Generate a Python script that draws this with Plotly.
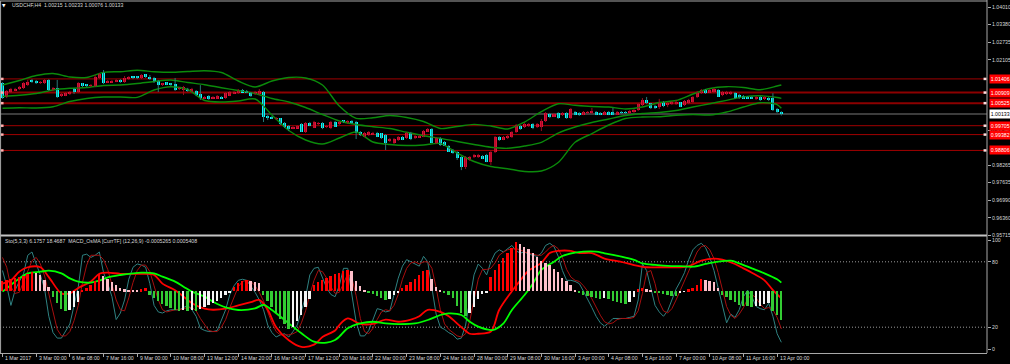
import plotly.graph_objects as go

# ---------------- data (USDCHF H4) ----------------
bar_index = list(range(186))

opens = [
1.0126,1.0075,1.0093,1.0100,1.0104,1.0108,1.0118,1.0137,1.0133,1.0126,
1.0126,1.0137,1.0100,1.0108,1.0078,1.0082,1.0086,1.0104,1.0093,1.0126,
1.0122,1.0115,1.0115,1.0144,1.0166,1.0129,1.0129,1.0129,1.0137,1.0129,
1.0140,1.0148,1.0148,1.0144,1.0158,1.0148,1.0144,1.0133,1.0118,1.0129,
1.0126,1.0122,1.0104,1.0100,1.0104,1.0093,1.0097,1.0086,1.0071,1.0078,
1.0071,1.0071,1.0075,1.0071,1.0078,1.0089,1.0089,1.0100,1.0097,1.0093,
1.0086,1.0086,1.0093,1.0006,1.0002,0.9995,0.9998,0.9980,0.9969,0.9962,
0.9962,0.9977,0.9948,0.9980,0.9962,0.9977,0.9980,0.9966,0.9962,0.9984,
0.9977,0.9988,0.9980,0.9988,0.9984,0.9948,0.9929,0.9937,0.9940,0.9944,
0.9944,0.9937,0.9915,0.9908,0.9918,0.9929,0.9926,0.9944,0.9926,0.9929,
0.9929,0.9948,0.9958,0.9908,0.9926,0.9911,0.9897,0.9882,0.9875,0.9857,
0.9820,0.9846,0.9857,0.9857,0.9860,0.9864,0.9838,0.9875,0.9929,0.9922,
0.9926,0.9929,0.9948,0.9969,0.9966,0.9969,0.9977,0.9966,0.9966,0.9988,
1.0013,1.0002,1.0017,1.0009,1.0017,0.9998,1.0020,1.0017,1.0013,1.0017,
1.0017,1.0020,1.0017,1.0013,1.0020,1.0020,1.0013,1.0020,1.0020,1.0017,
1.0020,1.0028,1.0046,1.0064,1.0053,1.0042,1.0038,1.0057,1.0046,1.0049,
1.0049,1.0057,1.0046,1.0053,1.0057,1.0075,1.0089,1.0100,1.0093,1.0093,
1.0100,1.0082,1.0086,1.0086,1.0089,1.0082,1.0078,1.0075,1.0075,1.0068,
1.0075,1.0068,1.0071,1.0071,1.0031,1.00215]

highs = [
1.0129,1.0100,1.0108,1.0108,1.0115,1.0129,1.0137,1.0140,1.0137,1.0133,
1.0140,1.0140,1.0111,1.0137,1.0089,1.0093,1.0097,1.0108,1.0129,1.0126,
1.0122,1.0122,1.0155,1.0162,1.0173,1.0137,1.0137,1.0140,1.0140,1.0151,
1.0151,1.0151,1.0151,1.0158,1.0158,1.0155,1.0148,1.0137,1.0126,1.0129,
1.0126,1.0144,1.0111,1.0115,1.0108,1.0108,1.0100,1.0118,1.0078,1.0082,
1.0078,1.0082,1.0078,1.0093,1.0097,1.0097,1.0104,1.0104,1.0100,1.0093,
1.0097,1.0104,1.0097,1.0009,1.0006,1.0002,0.9998,0.9984,0.9973,0.9969,
0.9973,0.9980,0.9984,0.9984,0.9988,0.9984,0.9984,0.9973,0.9988,0.9988,
0.9988,0.9991,0.9991,0.9991,0.9988,0.9951,0.9948,0.9951,0.9948,0.9948,
0.9944,0.9940,0.9926,0.9926,0.9933,0.9933,0.9948,0.9948,0.9937,0.9937,
0.9955,0.9962,0.9962,0.9929,0.9929,0.9915,0.9900,0.9886,0.9878,0.9860,
0.9860,0.9860,0.9868,0.9868,0.9864,0.9868,0.9878,0.9933,0.9933,0.9933,
0.9937,0.9951,0.9977,0.9973,0.9980,0.9980,0.9980,0.9980,0.9995,1.0020,
1.0017,1.0017,1.0020,1.0020,1.0020,1.0035,1.0024,1.0020,1.0024,1.0024,
1.0035,1.0024,1.0020,1.0024,1.0024,1.0035,1.0024,1.0024,1.0024,1.0028,
1.0031,1.0053,1.0071,1.0075,1.0053,1.0046,1.0068,1.0060,1.0057,1.0060,
1.0064,1.0057,1.0064,1.0068,1.0078,1.0097,1.0104,1.0104,1.0104,1.0108,
1.0104,1.0097,1.0097,1.0097,1.0093,1.0086,1.0082,1.0078,1.0078,1.0078,
1.0078,1.0078,1.0075,1.0089,1.0035,1.00233]

lows = [
1.0068,1.0071,1.0089,1.0097,1.0100,1.0104,1.0115,1.0126,1.0122,1.0122,
1.0122,1.0097,1.0097,1.0071,1.0075,1.0078,1.0082,1.0086,1.0089,1.0111,
1.0111,1.0111,1.0111,1.0140,1.0122,1.0126,1.0126,1.0129,1.0126,1.0126,
1.0137,1.0140,1.0140,1.0140,1.0144,1.0137,1.0126,1.0093,1.0115,1.0118,
1.0115,1.0097,1.0100,1.0082,1.0093,1.0093,1.0078,1.0064,1.0068,1.0064,
1.0068,1.0068,1.0068,1.0068,1.0078,1.0086,1.0086,1.0093,1.0089,1.0075,
1.0082,1.0082,0.9984,0.9991,0.9995,0.9991,0.9973,0.9962,0.9951,0.9958,
0.9962,0.9948,0.9944,0.9969,0.9962,0.9973,0.9958,0.9962,0.9958,0.9966,
0.9973,0.9980,0.9977,0.9977,0.9922,0.9933,0.9929,0.9933,0.9937,0.9929,
0.9922,0.9882,0.9911,0.9904,0.9915,0.9918,0.9922,0.9918,0.9922,0.9926,
0.9929,0.9948,0.9908,0.9904,0.9897,0.9897,0.9875,0.9868,0.9846,0.9809,
0.9813,0.9842,0.9853,0.9853,0.9849,0.9838,0.9828,0.9871,0.9915,0.9918,
0.9922,0.9926,0.9944,0.9955,0.9962,0.9966,0.9958,0.9962,0.9951,0.9984,
0.9998,1.0002,0.9995,1.0006,0.9995,0.9995,1.0009,1.0006,1.0009,1.0013,
1.0013,1.0009,1.0009,1.0009,1.0009,1.0009,1.0009,1.0013,1.0013,1.0013,
1.0017,1.0024,1.0042,1.0049,1.0031,1.0031,1.0031,1.0038,1.0038,1.0046,
1.0046,1.0038,1.0042,1.0049,1.0053,1.0071,1.0086,1.0086,1.0089,1.0089,
1.0075,1.0078,1.0082,1.0082,1.0068,1.0068,1.0068,1.0068,1.0068,1.0064,
1.0060,1.0064,1.0060,1.0024,1.0017,1.00076]

closes = [
1.0071,1.0097,1.0104,1.0104,1.0111,1.0126,1.0129,1.0129,1.0126,1.0129,
1.0137,1.0100,1.0108,1.0075,1.0086,1.0089,1.0093,1.0093,1.0126,1.0115,
1.0115,1.0118,1.0148,1.0158,1.0126,1.0133,1.0133,1.0137,1.0129,1.0144,
1.0148,1.0144,1.0144,1.0155,1.0148,1.0140,1.0129,1.0118,1.0126,1.0122,
1.0118,1.0100,1.0108,1.0111,1.0097,1.0104,1.0082,1.0071,1.0075,1.0068,
1.0075,1.0078,1.0071,1.0089,1.0093,1.0093,1.0100,1.0093,1.0093,1.0078,
1.0093,1.0097,1.0002,0.9998,0.9998,0.9998,0.9977,0.9966,0.9962,0.9966,
0.9969,0.9948,0.9980,0.9973,0.9984,0.9980,0.9962,0.9969,0.9984,0.9966,
0.9984,0.9984,0.9988,0.9980,0.9944,0.9937,0.9944,0.9948,0.9944,0.9929,
0.9926,0.9908,0.9922,0.9922,0.9929,0.9922,0.9944,0.9922,0.9933,0.9933,
0.9951,0.9958,0.9908,0.9926,0.9900,0.9897,0.9875,0.9871,0.9853,0.9820,
0.9857,0.9857,0.9864,0.9864,0.9853,0.9838,0.9875,0.9929,0.9918,0.9929,
0.9933,0.9948,0.9973,0.9958,0.9977,0.9977,0.9962,0.9977,0.9988,1.0017,
1.0002,1.0013,0.9998,1.0017,0.9998,1.0031,1.0013,1.0009,1.0020,1.0020,
1.0024,1.0013,1.0013,1.0020,1.0013,1.0013,1.0020,1.0017,1.0017,1.0024,
1.0028,1.0049,1.0064,1.0053,1.0035,1.0035,1.0057,1.0042,1.0053,1.0057,
1.0057,1.0038,1.0060,1.0064,1.0075,1.0093,1.0100,1.0089,1.0100,1.0104,
1.0075,1.0093,1.0093,1.0093,1.0071,1.0071,1.0071,1.0071,1.0071,1.0075,
1.0064,1.0075,1.0064,1.0028,1.0020,1.00133]

# Bollinger bands, read at every 4th bar
bb_bars = [0,4,8,12,16,20,24,28,32,36,40,44,48,52,56,60,64,68,72,76,80,84,88,92,
           96,100,104,108,112,116,120,124,128,132,136,140,144,148,152,156,160,164,
           168,172,176,180,184,185]
bb_upper = [1.01184,1.01348,1.01530,1.01603,1.01475,1.01457,1.01646,1.01668,1.01719,
            1.01668,1.01646,1.01675,1.01704,1.01639,1.01330,1.01112,1.01330,1.01457,
            1.01439,1.01184,1.00421,0.99974,0.99995,1.00075,1.00003,0.99857,0.99603,
            0.99676,0.99755,0.99694,0.99584,0.99839,1.00214,1.00504,1.00446,1.00403,
            1.00384,1.00312,1.00384,1.00548,1.00621,1.00857,1.01057,1.01123,1.01094,
            1.01014,1.01148,1.01184]
bb_middle = [1.00766,1.00810,1.00875,1.01003,1.01064,1.01094,1.01166,1.01184,1.01239,
             1.01312,1.01366,1.01275,1.01195,1.01086,1.00984,1.00875,1.00694,1.00566,
             1.00366,1.00112,0.99875,0.99748,0.99668,0.99603,0.99465,0.99341,0.99246,
             0.99130,0.99021,0.98923,0.98883,0.98966,0.99101,0.99439,0.99657,0.99821,
             0.99948,1.00075,1.00148,1.00184,1.00257,1.00384,1.00504,1.00628,1.00755,
             1.00792,1.00730,1.00701]
bb_lower = [1.00337,1.00359,1.00348,1.00395,1.00584,1.00694,1.00748,1.00748,1.00737,
            1.01003,1.01123,1.01021,1.00621,1.00566,1.00603,1.00675,1.00094,0.99530,
            0.99185,0.99039,0.99257,0.99476,0.99112,0.99021,0.98985,0.99003,0.99057,
            0.98712,0.98403,0.98221,0.98141,0.98039,0.98057,0.98367,0.99101,0.99421,
            0.99730,0.99966,1.00021,1.00032,1.00083,1.00112,1.00094,1.00203,1.00384,
            1.00541,1.00475,1.00337]

# horizontal levels drawn on the chart
level_prices = [1.01406, 1.00909, 1.00525, 0.99705, 0.99382, 0.98806]
level_labels = ["1.01406", "1.00909", "1.00525", "0.99705", "0.99382", "0.98806"]
level_widths = [1, 2, 2, 1, 1, 1]
last_price = 1.00133

# price scale labels that stay visible beside the level labels
price_ticks = [1.04010, 1.03380, 1.02735, 1.02105, 0.99540,
               0.98265, 0.97635, 0.96990, 0.96360, 0.95715]
price_tick_text = ["1.04010", "1.03380", "1.02735", "1.02105", "0.99540",
                   "0.98265", "0.97635", "0.96990", "0.96360", "0.95715"]

# time axis labels (every 8 bars)
time_tick_bars = [0,8,16,24,32,40,48,56,64,72,80,88,96,104,112,120,128,136,144,152,160,168,176,184]
time_tick_text = ["1 Mar 2017", "3 Mar 00:00", "6 Mar 08:00", "7 Mar 16:00", "9 Mar 00:00",
                  "10 Mar 08:00", "13 Mar 12:00", "14 Mar 20:00", "16 Mar 04:00",
                  "17 Mar 12:00", "20 Mar 16:00", "22 Mar 00:00", "23 Mar 08:00",
                  "24 Mar 16:00", "28 Mar 00:00", "29 Mar 08:00", "30 Mar 16:00",
                  "3 Apr 00:00", "4 Apr 08:00", "5 Apr 16:00", "7 Apr 00:00",
                  "10 Apr 08:00", "11 Apr 16:00", "13 Apr 00:00"]

# Stochastic (5,3,3)
sto_main = [72,58,40,54,62,69,86,89,78,68,
            55,30,15,10,10,16,23,40,57,86,
            87,84,86,89,70,60,48,27,33,45,
            64,75,78,77,75,60,40,34,33,35,
            36,36,36,38,40,36,30,19,17,16,
            16,17,27,36,50,58,63,64,63,58,
            52,45,36,22,15,11,13,14,11,16,
            22,35,48,68,74,75,65,56,50,48,
            58,74,74,48,25,12,12,17,28,37,
            36,34,35,50,65,76,82,80,78,76,
            85,80,56,32,20,18,15,13,9,10,
            22,45,68,78,74,68,80,88,91,89,
            92,95,90,88,89,87,86,85,88,95,
            97,94,85,72,63,63,62,60,53,46,
            38,30,24,21,24,28,28,28,28,29,
            30,45,78,72,55,40,34,30,35,45,
            55,62,70,82,91,95,97,93,84,72,
            55,38,24,32,29,36,48,54,48,39,
            37,36,42,30,14,6.1757]
sto_signal = [84,75,57,51,52,62,72,81,84,78,
              67,51,33,18,12,12,16,26,40,61,
              77,86,86,86,82,73,59,45,36,35,
              47,61,72,77,77,71,58,45,36,34,
              35,36,36,37,38,38,35,28,22,17,
              16,16,20,27,38,48,57,62,63,62,
              58,52,44,34,24,16,13,13,13,14,
              16,24,35,50,63,72,71,65,57,51,
              52,60,69,65,49,28,16,14,19,27,
              34,36,35,40,50,64,74,79,80,78,
              80,80,74,56,36,23,18,15,12,11,
              14,26,45,64,73,73,74,79,86,89,
              91,92,92,91,89,88,87,86,86,89,
              93,95,92,84,73,66,63,62,58,53,
              46,38,31,25,23,24,27,28,28,28,
              29,35,51,70,72,60,43,35,33,37,
              45,54,62,71,81,89,94,95,91,83,
              70,55,39,31,28,32,38,46,50,47,
              41,37,38,36,29,18.4687]

# smooth red / green averages in the oscillator window
avg_red_bars = [0,2,4,6,9,11,14,16,18,21,23,25,28,31,33,36,38,41,43,45,48,50,53,56,59,
                61,63,65,68,71,74,76,79,80,82,85,88,91,94,97,99,101,104,106,109,111,113,
                116,118,121,123,125,128,130,132,135,137,140,143,147,150,153,156,159,161,
                163,166,169,171,174,176,178,181,183,185]
avg_red = [60,63,71,75,75,66,51,51,56,62,69,70,69,69,69,68,60,54,48,42,37,36,37,40,43,
           45,36,20,8,2,4,11,17,22,28,23,23,27,25,27,30,36,34,30,20,14,14,
           16,36,53,63,72,79,88,90,90,88,88,83,80,77,75,75,75,75,
           76,81,83,82,78,74,70,63,54,46.5]
avg_green_bars = [0,2,4,6,9,11,14,16,18,21,23,25,28,31,33,36,38,41,43,45,48,50,53,56,60,
                  62,64,67,71,74,77,79,80,82,85,88,91,94,98,101,104,106,109,111,113,
                  116,117,119,121,124,126,128,131,133,136,138,141,143,147,150,152,155,
                  159,161,164,167,170,173,175,178,181,184,185]
avg_green = [52.6,58.7,64.8,69.4,70.9,71.9,69.4,64.8,61.8,60.9,62.7,65.7,67.9,69.4,70,
             69.4,66.4,61.8,57.2,52.6,48,43.4,38.2,35.8,37.3,40.4,35.8,26.6,14.4,6.7,
             5.8,8.3,11.3,19,23.5,25,23.5,22.9,23.5,26.6,31.2,32.7,31.2,25,20.5,17.4,
             18,23.5,35.8,49.5,60.2,72.5,80.1,85.3,88.4,89.3,89.3,87.8,84.7,81.7,78.6,
             77.1,76.1,76.1,75.5,78,80.1,81,78.6,74,69.4,63.9,60.9]

# MACD OsMA (12,26,9), in units of 1e-4
osma_unit = 1e-4
osma = [1.82,2.00,2.18,2.37,2.55,2.73,3.09,3.46,3.28,2.91,
        2.00,0.73,-1.09,-2.18,-3.28,-3.64,-3.46,-2.91,-2.00,0.18,
        0.55,1.09,1.82,3.09,2.73,2.18,1.64,1.09,0.55,0.36,
        0.27,0.18,0.18,0.36,0.55,-0.73,-1.27,-1.82,-2.37,-2.73,
        -3.09,-3.46,-3.64,-3.46,-3.64,-3.46,-3.64,-3.28,-2.91,-2.55,
        -2.18,-1.82,-1.27,-0.73,-0.36,0.73,1.46,1.82,2.00,1.82,
        1.64,1.46,-0.73,-1.82,-2.91,-4.00,-5.10,-6.01,-6.92,-6.55,
        -5.46,-4.37,-2.91,-1.46,1.09,1.64,2.00,2.37,2.73,3.09,
        3.28,3.64,3.82,3.64,1.82,0.91,0.18,-0.18,-0.55,-0.91,
        -1.27,-1.64,-1.46,-0.73,-0.18,0.55,1.09,1.64,2.18,2.91,
        3.64,3.82,2.18,0.73,0.18,-0.18,-0.73,-1.27,-2.73,-4.00,
        -4.55,-4.00,-2.91,-1.46,-0.55,-0.18,2.55,3.82,4.91,6.01,
        6.92,7.83,8.92,8.55,8.01,7.64,6.92,6.19,5.46,5.10,
        4.73,4.00,3.46,2.37,1.82,1.09,0.18,-0.36,-0.73,-0.91,
        -1.09,-1.27,-1.46,-1.27,-1.46,-1.82,-2.00,-2.18,-2.37,-2.00,
        -1.09,0.36,0.55,0.36,0.09,-0.18,-0.36,-0.55,-0.73,-0.82,
        -0.91,-0.36,-0.09,0.36,0.55,1.09,2.18,2.09,1.82,1.64,
        0.55,-0.73,-1.09,-1.64,-2.00,-2.55,-2.64,-2.73,-2.82,-2.73,
        -2.64,-2.28,-2.18,-3.64,-4.37,-5.265]
sto_levels = [80, 20]
sto_ticks = [0, 20, 80, 100]

# ---------------- styling ----------------
BULL_BODY, BULL_WICK = "#e0103a", "#9a0a1e"
BEAR_BODY, BEAR_WICK = "#00ffff", "#2a7878"
BAND = "#0b8a0b"
TXT = "#d8d8d8"
FONT = "Liberation Sans"
FS = 5.2

PLOT_H = 353.0     # plot-area height in px (t=0, b=11)
PLOT_W = 987.0
def py(px):        # page px from top -> paper y
    return (PLOT_H - px) / PLOT_H

fig = go.Figure()

# Bollinger bands
for band in (bb_upper, bb_middle, bb_lower):
    fig.add_trace(go.Scatter(x=bb_bars, y=band, mode="lines", xaxis="x", yaxis="y",
                             line=dict(color=BAND, width=1.4, shape="spline", smoothing=0.8),
                             hoverinfo="skip"))

# candle wicks
n = min(len(bar_index), len(opens), len(highs), len(lows), len(closes))
wx_up, wy_up, wx_dn, wy_dn = [], [], [], []
for i in range(n):
    if closes[i] >= opens[i]:
        wx_up += [bar_index[i], bar_index[i], None]
        wy_up += [lows[i], highs[i], None]
    else:
        wx_dn += [bar_index[i], bar_index[i], None]
        wy_dn += [lows[i], highs[i], None]
fig.add_trace(go.Scatter(x=wx_up, y=wy_up, mode="lines", line=dict(color=BULL_WICK, width=1),
                         xaxis="x", yaxis="y", hoverinfo="skip"))
fig.add_trace(go.Scatter(x=wx_dn, y=wy_dn, mode="lines", line=dict(color=BEAR_WICK, width=1),
                         xaxis="x", yaxis="y", hoverinfo="skip"))

# candle bodies
min_body = 0.00005
body_base, body_len, body_col = [], [], []
for i in range(n):
    lo_b = min(opens[i], closes[i])
    ln = max(abs(closes[i] - opens[i]), min_body)
    body_base.append(lo_b)
    body_len.append(ln)
    body_col.append(BULL_BODY if closes[i] >= opens[i] else BEAR_BODY)
fig.add_trace(go.Bar(x=bar_index[:n], y=body_len, base=body_base, width=0.72,
                     marker=dict(color=body_col, line=dict(width=0)),
                     xaxis="x", yaxis="y", hoverinfo="skip"))

# OsMA histogram
hist_vals = [v * osma_unit for v in osma]
hist_col = []
for i, v in enumerate(hist_vals):
    prev = hist_vals[i - 1] if i > 0 else v - 1
    if v >= 0:
        hist_col.append("#ff0000" if v > prev else "#ffc0cb")
    else:
        hist_col.append("#f4f4f4" if v > prev else "#33cc33")
fig.add_trace(go.Bar(x=bar_index[:len(hist_vals)], y=hist_vals, width=0.45,
                     marker=dict(color=hist_col, line=dict(width=0)),
                     xaxis="x2", yaxis="y3", hoverinfo="skip"))

# oscillator lines
fig.add_trace(go.Scatter(x=bar_index[:len(sto_main)], y=sto_main, mode="lines",
                         line=dict(color="#2f8282", width=1), xaxis="x2", yaxis="y2", hoverinfo="skip"))
fig.add_trace(go.Scatter(x=bar_index[:len(sto_signal)], y=sto_signal, mode="lines",
                         line=dict(color="#a80f0f", width=1), xaxis="x2", yaxis="y2", hoverinfo="skip"))
fig.add_trace(go.Scatter(x=avg_red_bars, y=avg_red, mode="lines",
                         line=dict(color="#ff0000", width=1.8, shape="spline", smoothing=0.9),
                         xaxis="x2", yaxis="y2", hoverinfo="skip"))
fig.add_trace(go.Scatter(x=avg_green_bars, y=avg_green, mode="lines",
                         line=dict(color="#00ff00", width=1.8, shape="spline", smoothing=0.9),
                         xaxis="x2", yaxis="y2", hoverinfo="skip"))

shapes = []
# level lines + end markers
for lv, w in zip(level_prices, level_widths):
    shapes.append(dict(type="line", xref="paper", yref="y", x0=0, x1=1, y0=lv, y1=lv,
                       line=dict(color="#8c0000" if w == 2 else "#a00000", width=w), layer="below"))
    shapes.append(dict(type="rect", xref="paper", yref="y", x0=0.0006, x1=0.0036,
                       y0=lv - 0.00045, y1=lv + 0.00045, fillcolor="#ffb0b0", line=dict(width=0)))
    shapes.append(dict(type="rect", xref="paper", yref="y", x0=0.9965, x1=0.9995,
                       y0=lv - 0.00045, y1=lv + 0.00045, fillcolor="#ffe0e0", line=dict(width=0)))
# current price line
shapes.append(dict(type="line", xref="paper", yref="y", x0=0, x1=1, y0=last_price, y1=last_price,
                   line=dict(color="#3c3c3c", width=2), layer="below"))
# stochastic levels
for lv in sto_levels:
    shapes.append(dict(type="line", xref="paper", yref="y2", x0=0, x1=1, y0=lv, y1=lv,
                       line=dict(color="#9a9a9a", width=1, dash="1px,2px"), layer="below"))
# frames
frame = "#a8a8a8"
shapes.append(dict(type="line", xref="paper", yref="paper", x0=0, x1=1, y0=py(1), y1=py(1),
                   line=dict(color=frame, width=1)))
shapes.append(dict(type="line", xref="paper", yref="paper", x0=0, x1=1, y0=py(235.5), y1=py(235.5),
                   line=dict(color="#c4c4c4", width=2)))
shapes.append(dict(type="line", xref="paper", yref="paper", x0=0.0006, x1=0.0006, y0=py(1), y1=py(353),
                   line=dict(color=frame, width=1)))
shapes.append(dict(type="line", xref="paper", yref="paper", x0=1, x1=1, y0=py(0), y1=py(353),
                   line=dict(color=frame, width=1)))

annotations = []
for lv, lab in zip(level_prices, level_labels):
    annotations.append(dict(xref="paper", yref="y", x=1, y=lv, xanchor="left", yanchor="middle",
                            xshift=2, text=lab, showarrow=False, bgcolor="#ff0000",
                            font=dict(family=FONT, size=FS, color="#ffffff"), borderpad=0.8))
annotations.append(dict(xref="paper", yref="y", x=1, y=last_price, xanchor="left", yanchor="middle",
                        xshift=2, text=f"{last_price:.5f}", showarrow=False, bgcolor="#ffffff",
                        font=dict(family=FONT, size=FS, color="#000000"), borderpad=0.8))
# title lines
annotations.append(dict(xref="paper", yref="paper", x=4 / PLOT_W, y=py(5), xanchor="center",
                        yanchor="middle", text="▼", showarrow=False,
                        font=dict(family="DejaVu Sans", size=4.5, color="#ffffff")))
annotations.append(dict(xref="paper", yref="paper", x=10 / PLOT_W, y=py(5), xanchor="left",
                        yanchor="middle",
                        text="USDCHF,H4\u00a0\u00a0" + " ".join(f"{v:.5f}" for v in
                             (opens[-1], highs[-1], lows[-1], closes[-1])),
                        showarrow=False, font=dict(family=FONT, size=FS, color=TXT)))
annotations.append(dict(xref="paper", yref="paper", x=3 / PLOT_W, y=py(240.5), xanchor="left",
                        yanchor="middle",
                        text=f"Sto(5,3,3) {sto_main[-1]:.4f} {sto_signal[-1]:.4f}\u00a0\u00a0"
                             f"MACD_OsMA [CurrTF] (12,26,9) {osma[-1]*osma_unit:.7f} 0.0005408",
                        showarrow=False, font=dict(family=FONT, size=FS, color=TXT)))
# time labels
for b, t in zip(time_tick_bars, time_tick_text):
    annotations.append(dict(xref="x", yref="paper", x=b, y=py(357.6), xanchor="left",
                            yanchor="middle", xshift=0.5, text=t, showarrow=False,
                            font=dict(family=FONT, size=FS, color=TXT)))

x_range = [-0.594, 233.85]
fig.update_layout(
    width=1010, height=364,
    margin=dict(l=0, r=23, t=0, b=11),
    paper_bgcolor="#000000", plot_bgcolor="#000000",
    showlegend=False, barmode="overlay", bargap=0,
    xaxis=dict(domain=[0, 1], anchor="y", range=x_range, showgrid=False, zeroline=False,
               showticklabels=False, ticks=""),
    xaxis2=dict(domain=[0, 1], anchor="y2", matches="x", range=x_range, showgrid=False,
                zeroline=False, showticklabels=False, ticks="outside", ticklen=3,
                tickcolor=frame, tickvals=time_tick_bars, showline=True, linecolor=frame,
                linewidth=1),
    yaxis=dict(domain=[py(236), py(2)], anchor="x", side="right",
               range=[0.956946, 1.042027], showgrid=False, zeroline=False,
               tickvals=price_ticks, ticktext=price_tick_text, ticks="outside", ticklen=3,
               tickcolor=frame, tickfont=dict(family=FONT, size=FS, color=TXT),
               showline=False),
    yaxis2=dict(domain=[0, py(237)], anchor="x2", side="right", range=[-3.67, 102.75],
                showgrid=False, zeroline=False, tickvals=sto_ticks,
                ticktext=[str(v) for v in sto_ticks], ticks="outside", ticklen=3,
                tickcolor=frame, tickfont=dict(family=FONT, size=FS, color=TXT),
                showline=False),
    yaxis3=dict(overlaying="y2", anchor="x2", range=[-0.001128, 0.000983], visible=False,
                showgrid=False, zeroline=False),
    shapes=shapes,
    annotations=annotations,
)

fig.write_html("out.html")
